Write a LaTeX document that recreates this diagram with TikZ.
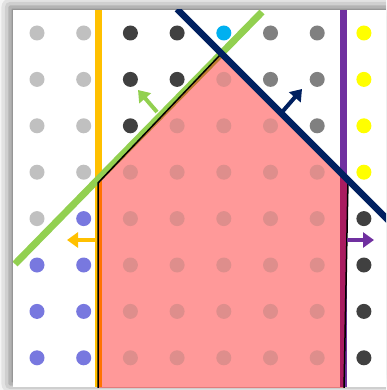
\documentclass[tikz,border=0pt]{standalone}
\usepackage{tikz}
\usetikzlibrary{arrows.meta,shadows.blur}
\usepackage{xcolor}
\definecolor{LineOrange}{HTML}{FFC000}
\definecolor{LinePurple}{HTML}{7030A0}
\definecolor{LineGreen}{HTML}{92D050}
\definecolor{LineNavy}{HTML}{002060}
\definecolor{DotLight}{HTML}{C0C0C0}
\definecolor{DotDark}{HTML}{404040}
\definecolor{DotMid}{HTML}{808080}
\definecolor{DotCyan}{HTML}{00B0F0}
\definecolor{DotYellow}{HTML}{FFFF00}
\definecolor{DotViolet}{HTML}{7878DF}
\definecolor{DotIn}{RGB}{222,142,140}
\begin{document}
\begin{tikzpicture}[x=1pt,y=-1pt,>={Triangle[length=11pt,width=15pt]},
  gdot/.style={circle,inner sep=0pt,minimum size=15pt,fill=#1},
  halfplane/.style={line width=7pt},
  normal/.style={->,line width=4pt,draw=#1}]
\useasboundingbox (0,0) rectangle (386,390);
\clip (0,0) rectangle (386,390);
\fill[white,blur shadow={shadow xshift=-3pt,shadow yshift=3pt,shadow blur radius=12pt,shadow opacity=60}] (13,10) rectangle (400,387);
\begin{scope}
\clip (13,10) rectangle (400,387);
% boundary lines
\coordinate (o1) at (98,10);\coordinate (o2) at (98,387);
\coordinate (p1) at (343,10);\coordinate (p2) at (343,387);
\coordinate (g1) at (15,264);\coordinate (g2) at (262,12);
\coordinate (n1) at (177,9);\coordinate (n2) at (392,224);
\draw[halfplane,LineOrange] (o1)--(o2);
\draw[halfplane,LinePurple] (p1)--(p2);
\draw[halfplane,LineGreen] (g1)--(g2);
% grid of points
\foreach \row/\cols in {1/{DotLight,DotLight,DotDark,DotDark,DotCyan,DotMid,DotMid,DotYellow},
  2/{DotLight,DotLight,DotDark,DotDark,in,DotMid,DotMid,DotYellow},
  3/{DotLight,DotLight,DotDark,in,in,in,DotMid,DotYellow},
  4/{DotLight,DotLight,in,in,in,in,in,DotYellow},
  5/{DotLight,DotViolet,in,in,in,in,in,DotDark},
  6/{DotViolet,DotViolet,in,in,in,in,in,DotDark},
  7/{DotViolet,DotViolet,in,in,in,in,in,DotDark},
  8/{DotViolet,DotViolet,in,in,in,in,in,DotDark}}
  \foreach \c [count=\col] in \cols {
    \def\tst{in}\edef\cur{\c}
    \ifx\cur\tst\else
      \node[gdot=\c] (d\row\col) at ({37+46.7*(\col-1)},{33+46.4*(\row-1)}) {};
    \fi
  };
% feasible region
\coordinate (rt) at (220,55);\coordinate (rl) at (98,183);\coordinate (rr) at (348,180);
\coordinate (rbr) at (344,390);\coordinate (rbl) at (98,390);
\fill[red,opacity=.4] (rbl)--(rl)--(rt)--(rr)--(rbr)--cycle;
\draw[black,line width=1.5pt,line join=miter] (rbl)--(rl)--(rt)--(rr)--(rbr);
\foreach \row/\first/\last in {2/5/5,3/4/6,4/3/7,5/3/7,6/3/7,7/3/7,8/3/7}
  \foreach \col in {\first,...,\last}
    \node[gdot=DotIn] (d\row\col) at ({37+46.7*(\col-1)},{33+46.4*(\row-1)}) {};
\draw[line width=6.5pt,LineNavy] (n1)--(n2);
\end{scope}
% normals
\coordinate (ga0) at (157,112);\coordinate (ga1) at (138,90);
\coordinate (na0) at (283,111);\coordinate (na1) at (302,89);
\coordinate (oa0) at (95,240);\coordinate (oa1) at (67,240);
\coordinate (pa0) at (347,240);\coordinate (pa1) at (374,240);
\draw[normal=LineGreen] (ga0)--(ga1);\draw[normal=LineNavy] (na0)--(na1);\draw[normal=LineOrange] (oa0)--(oa1);\draw[normal=LinePurple] (pa0)--(pa1);
\end{tikzpicture}
\end{document}
